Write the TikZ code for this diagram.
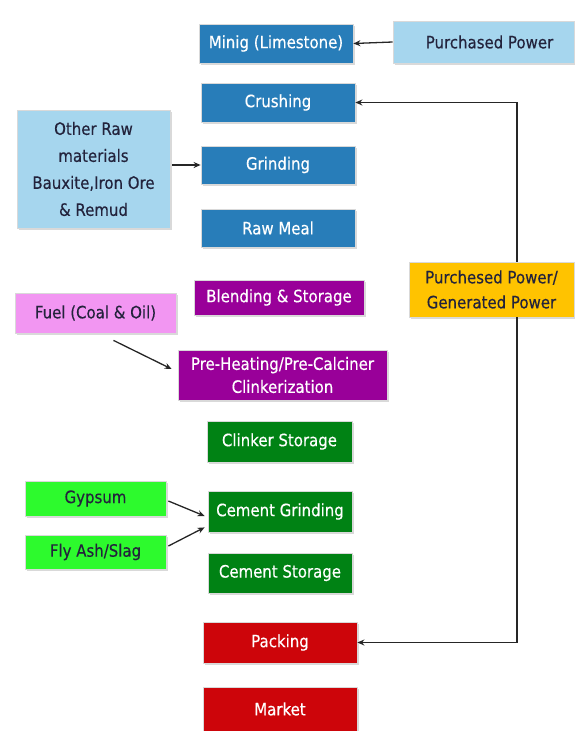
\documentclass[tikz,border=0pt]{standalone}
\usepackage{fontspec}
\setmainfont{DejaVu Sans}[FakeStretch=0.88,FakeBold=0.4]
\usetikzlibrary{arrows.meta,shadows}
\definecolor{cblue}{RGB}{40,125,185}
\definecolor{clight}{RGB}{166,214,238}
\definecolor{cpurple}{RGB}{153,0,153}
\definecolor{cpink}{RGB}{242,150,242}
\definecolor{cgreen}{RGB}{0,130,20}
\definecolor{clgreen}{RGB}{45,250,45}
\definecolor{cred}{RGB}{205,5,10}
\definecolor{cyellow}{RGB}{255,195,0}
\definecolor{ctext}{RGB}{35,35,60}
\tikzset{
  box/.style={draw=white!85!black, line width=0.8pt, inner sep=0pt, align=center,
    font=\fontsize{17}{25}\selectfont,
    drop shadow={shadow xshift=1.5pt, shadow yshift=-1.5pt, opacity=0.3}},
  dark/.style={box, text=white},
  lite/.style={box, text=ctext},
  sz/.style 2 args={minimum width=#1pt, minimum height=#2pt},
  arr/.style={-{Stealth[length=7pt,width=6pt]}, line width=1.3pt, black!85}
}
\begin{document}
\begin{tikzpicture}[x=1pt,y=-1pt]
\useasboundingbox (0,0) rectangle (574,731);
% blue group
\node[dark, fill=cblue, sz={154}{39}] (min) at (276,43.5) {Minig (Limestone)};
\node[lite, fill=clight, sz={181}{42}] (pp) at (483.5,42) {\hspace*{12pt}Purchased Power};
\node[dark, fill=cblue, sz={154}{39}] (crush) at (278,102.5) {Crushing};
\node[lite, fill=clight, sz={153}{118}, font=\fontsize{17}{27}\selectfont] (other) at (93.5,169) {Other Raw\\materials\\Bauxite,Iron Ore\\\& Remud};
\node[dark, fill=cblue, sz={154}{38}] (grind) at (278,165) {Grinding};
\node[dark, fill=cblue, sz={154}{38}] (raw) at (278,228) {Raw Meal};
% purple group
\node[dark, fill=cpurple, sz={170}{35}] (blend) at (279,297.5) {Blending \& Storage};
\node[lite, fill=cpink, sz={161}{40}] (fuel) at (95.5,313) {Fuel (Coal \& Oil)};
\node[dark, fill=cpurple, sz={209}{50}, font=\fontsize{17}{23}\selectfont] (pre) at (282.5,375) {Pre-Heating/Pre-Calciner\\Clinkerization};
% green group
\node[dark, fill=cgreen, sz={145}{41}] (clink) at (279.5,441.5) {Clinker Storage};
\node[lite, fill=clgreen, sz={141}{35}] (gyp) at (95.5,498.5) {Gypsum};
\node[lite, fill=clgreen, sz={141}{34}] (fly) at (95.5,552) {Fly Ash/Slag};
\node[dark, fill=cgreen, sz={144}{41}] (cg) at (280,511.5) {Cement Grinding};
\node[dark, fill=cgreen, sz={144}{40}] (cs) at (280,573) {Cement Storage};
% red group
\node[dark, fill=cred, sz={154}{41}] (pack) at (280,642.5) {Packing};
\node[dark, fill=cred, sz={154}{44}] (market) at (280,709) {Market};
% power
\node[lite, fill=cyellow, sz={165}{55}, font=\fontsize{17}{25}\selectfont] (yel) at (491.5,289.5) {Purchesed Power/\\Generated Power};
\coordinate (vx) at (517,0);
% connectors
\draw[arr] (pp.west) -- (min.east);
\draw[arr] (yel.north -| vx) |- (crush.east);
\draw[arr] (yel.south -| vx) |- (pack.east);
\draw[arr] ([xshift=2pt]other.east |- grind.west) -- (grind.west);
\draw[arr] ([xshift=18pt,yshift=-7pt]fuel.south) -- ([xshift=-6pt,yshift=6pt]pre.west);
\draw[arr] ([xshift=2pt,yshift=-2.5pt]gyp.east) -- ([xshift=-3pt,yshift=-4.5pt]cg.west);
\draw[arr] ([xshift=2pt,yshift=6pt]fly.east) -- ([xshift=-3pt,yshift=5pt]cg.south west);
\end{tikzpicture}
\end{document}
